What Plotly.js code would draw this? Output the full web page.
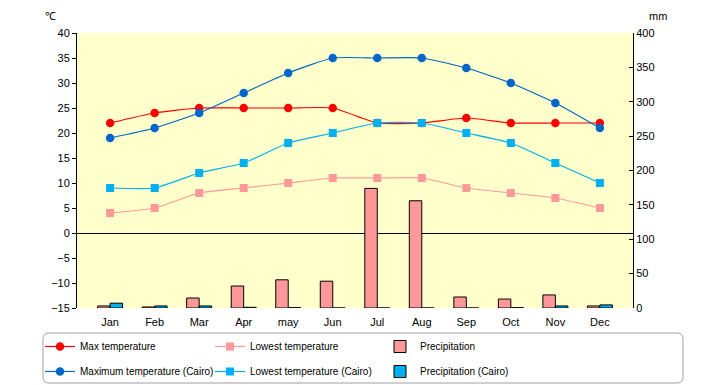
<!DOCTYPE html>
<html><head><meta charset="utf-8">
<script src="https://cdn.plot.ly/plotly-3.0.1.min.js"></script>
<style>html,body{margin:0;padding:0;background:#fff;}#chart{width:720px;height:385px;}</style>
</head><body><div id="chart"></div>
<script>
var months = ["Jan","Feb","Mar","Apr","may","Jun","Jul","Aug","Sep","Oct","Nov","Dec"];
var maxTemp = [22,24,25,25,25,25,22,22,23,22,22,22];
var lowTemp = [4,5,8,9,10,11,11,11,9,8,7,5];
var precip = [3,1.5,14.5,32,41,39,174,156,16,13,19,3];
var cairoMax = [19,21,24,28,32,35,35,35,33,30,26,21];
var cairoLow = [9,9,12,14,18,20,22,22,20,18,14,10];
var cairoPrecip = [7,3,3,1,0.5,0,0,0,0,0.5,3,4.5];

var FONT = "'Liberation Sans',Arial,sans-serif";
var W = 720, H = 385;
var L = 77, R = 633, T = 33, B = 308;
function cx(x){return x/W;}
function cy(y){return (H-y)/H;}

var traces = [
 {type:'scatter',mode:'lines+markers',name:'Max temperature',x:months,y:maxTemp,yaxis:'y2',legend:'legend',
  line:{color:'#FF0000',width:1.2,shape:'spline',smoothing:0.5},marker:{symbol:'circle',size:8.5,color:'#FF0000'}},
 {type:'scatter',mode:'lines+markers',name:'Lowest temperature',x:months,y:lowTemp,yaxis:'y2',legend:'legend',
  line:{color:'#FF9999',width:1.2,shape:'spline',smoothing:0.5},marker:{symbol:'square',size:8,color:'#FF9999'}},
 {type:'bar',name:'Precipitation',x:months,y:precip,yaxis:'y',legend:'legend',
  marker:{color:'#FF9999',line:{color:'#000',width:1}}},
 {type:'scatter',mode:'lines+markers',name:'Maximum temperature (Cairo)',x:months,y:cairoMax,yaxis:'y2',legend:'legend2',
  line:{color:'#0066CC',width:1.2,shape:'spline',smoothing:0.5},marker:{symbol:'circle',size:8.5,color:'#0066CC'}},
 {type:'scatter',mode:'lines+markers',name:'Lowest temperature (Cairo)',x:months,y:cairoLow,yaxis:'y2',legend:'legend2',
  line:{color:'#00B0F0',width:1.2,shape:'spline',smoothing:0.5},marker:{symbol:'square',size:8,color:'#00B0F0'}},
 {type:'bar',name:'Precipitation (Cairo)',x:months,y:cairoPrecip,yaxis:'y',legend:'legend2',
  marker:{color:'#00B0F0',line:{color:'#000',width:1}}}
];

var r = 6;
function legendCfg(topPx){
 return {orientation:'h',xref:'container',yref:'container',x:cx(40),y:cy(topPx),xanchor:'left',yanchor:'top',
  traceorder:'normal',entrywidth:125,entrywidthmode:'pixels',itemwidth:30,bgcolor:'rgba(0,0,0,0)',borderwidth:0,
  font:{family:FONT,size:10,color:'#000'}};
}

function px(x){return (x-L)/(R-L);}
function py(y){return (B-y)/(B-T);}
var bx0=px(43),bx1=px(683),by0=py(333),by1=py(383),kx=r/(R-L),ky=r/(B-T);
var boxPath = 'M '+(bx0+kx)+' '+by0+' L '+(bx1-kx)+' '+by0+' Q '+bx1+' '+by0+' '+bx1+' '+(by0-ky)+
 ' L '+bx1+' '+(by1+ky)+' Q '+bx1+' '+by1+' '+(bx1-kx)+' '+by1+' L '+(bx0+kx)+' '+by1+' Q '+bx0+' '+by1+' '+bx0+' '+(by1+ky)+
 ' L '+bx0+' '+(by0-ky)+' Q '+bx0+' '+by0+' '+(bx0+kx)+' '+by0+' Z';

var layout = {
 width:W,height:H,
 margin:{l:L,r:W-R,t:T,b:H-B,pad:0,autoexpand:false},
 paper_bgcolor:'#FFFFFF',plot_bgcolor:'#FFFFCC',
 font:{family:FONT,size:11,color:'#000'},
 showlegend:true,
 barmode:'group',bargap:0.44,bargroupgap:0,
 xaxis:{type:'category',showline:false,ticks:'outside',ticklen:4,tickcolor:'rgba(0,0,0,0)',showgrid:false,zeroline:false,
  tickfont:{family:FONT,size:11},automargin:false},
 yaxis:{side:'right',range:[0,400],dtick:50,showgrid:false,zeroline:false,showline:true,linecolor:'#000',linewidth:1,
  ticks:'inside',ticklen:4,tickcolor:'#000',tickfont:{family:FONT,size:11},automargin:false},
 yaxis2:{side:'left',overlaying:'y',range:[-15,40],dtick:5,showgrid:false,zeroline:true,zerolinecolor:'#000',zerolinewidth:1,
  showline:true,linecolor:'#000',linewidth:1,ticks:'outside',ticklen:4,tickcolor:'#000',tickfont:{family:FONT,size:11},
  automargin:false},
 legend:legendCfg(332),
 legend2:legendCfg(357),
 shapes:[{type:'path',xref:'paper',yref:'paper',path:boxPath,
   line:{color:'#A0A0A0',width:1},fillcolor:'rgba(0,0,0,0)',layer:'above'}],
 annotations:[
  {text:'℃',xref:'paper',yref:'paper',x:px(50),y:py(16),xanchor:'center',yanchor:'middle',showarrow:false,font:{family:FONT,size:11}},
  {text:'mm',xref:'paper',yref:'paper',x:px(658),y:py(16),xanchor:'center',yanchor:'middle',showarrow:false,font:{family:FONT,size:11}}
 ]
};
Plotly.newPlot('chart',traces,layout,{displayModeBar:false,staticPlot:true});
</script></body></html>
